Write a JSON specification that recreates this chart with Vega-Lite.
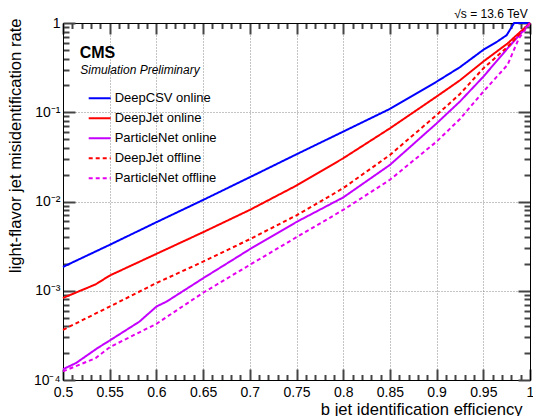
{
  "$schema": "https://vega.github.io/schema/vega-lite/v6.json",
  "width": 467,
  "height": 357,
  "autosize": "none",
  "padding": {"left": 63, "top": 23, "right": 3, "bottom": 36},
  "config": {
    "font": "Liberation Sans",
    "view": {"stroke": "black", "strokeWidth": 1},
    "axis": {"domainColor": "black", "labelColor": "black", "titleColor": "black", "labelFont": "Liberation Sans", "titleFont": "Liberation Sans"},
    "legend": {
      "orient": "none", "legendX": 24.7, "legendY": 65.5, "padding": 0,
      "symbolType": "stroke", "symbolSize": 484, "symbolStrokeWidth": 2,
      "labelFontSize": 13, "labelFont": "Liberation Sans", "labelColor": "black",
      "labelOffset": 3, "rowPadding": 0, "clipHeight": 19.6
    }
  },
  "data": {"values": [
    {"model": "DeepCSV online", "eff": 0.5, "rate": 0.00185},
    {"model": "DeepCSV online", "eff": 0.55, "rate": 0.00327},
    {"model": "DeepCSV online", "eff": 0.6, "rate": 0.00586},
    {"model": "DeepCSV online", "eff": 0.65, "rate": 0.0104},
    {"model": "DeepCSV online", "eff": 0.7, "rate": 0.0187},
    {"model": "DeepCSV online", "eff": 0.75, "rate": 0.0338},
    {"model": "DeepCSV online", "eff": 0.8, "rate": 0.0607},
    {"model": "DeepCSV online", "eff": 0.85, "rate": 0.109},
    {"model": "DeepCSV online", "eff": 0.9, "rate": 0.22},
    {"model": "DeepCSV online", "eff": 0.925, "rate": 0.32},
    {"model": "DeepCSV online", "eff": 0.95, "rate": 0.5},
    {"model": "DeepCSV online", "eff": 0.965, "rate": 0.62},
    {"model": "DeepCSV online", "eff": 0.975, "rate": 0.73},
    {"model": "DeepCSV online", "eff": 0.983, "rate": 1.0},
    {"model": "DeepCSV online", "eff": 1.0, "rate": 1.0},

    {"model": "DeepJet online", "eff": 0.5, "rate": 0.00083},
    {"model": "DeepJet online", "eff": 0.535, "rate": 0.00118},
    {"model": "DeepJet online", "eff": 0.55, "rate": 0.00148},
    {"model": "DeepJet online", "eff": 0.6, "rate": 0.00259},
    {"model": "DeepJet online", "eff": 0.65, "rate": 0.00453},
    {"model": "DeepJet online", "eff": 0.7, "rate": 0.00805},
    {"model": "DeepJet online", "eff": 0.75, "rate": 0.0151},
    {"model": "DeepJet online", "eff": 0.8, "rate": 0.0305},
    {"model": "DeepJet online", "eff": 0.85, "rate": 0.066},
    {"model": "DeepJet online", "eff": 0.9, "rate": 0.15},
    {"model": "DeepJet online", "eff": 0.925, "rate": 0.228},
    {"model": "DeepJet online", "eff": 0.95, "rate": 0.37},
    {"model": "DeepJet online", "eff": 0.976, "rate": 0.59},
    {"model": "DeepJet online", "eff": 1.0, "rate": 1.0},

    {"model": "ParticleNet online", "eff": 0.5, "rate": 0.000132},
    {"model": "ParticleNet online", "eff": 0.514, "rate": 0.000155},
    {"model": "ParticleNet online", "eff": 0.537, "rate": 0.000228},
    {"model": "ParticleNet online", "eff": 0.55, "rate": 0.000277},
    {"model": "ParticleNet online", "eff": 0.582, "rate": 0.000452},
    {"model": "ParticleNet online", "eff": 0.6, "rate": 0.000665},
    {"model": "ParticleNet online", "eff": 0.611, "rate": 0.000757},
    {"model": "ParticleNet online", "eff": 0.65, "rate": 0.00138},
    {"model": "ParticleNet online", "eff": 0.7, "rate": 0.00292},
    {"model": "ParticleNet online", "eff": 0.75, "rate": 0.0059},
    {"model": "ParticleNet online", "eff": 0.8, "rate": 0.0111},
    {"model": "ParticleNet online", "eff": 0.85, "rate": 0.0257},
    {"model": "ParticleNet online", "eff": 0.9, "rate": 0.075},
    {"model": "ParticleNet online", "eff": 0.925, "rate": 0.132},
    {"model": "ParticleNet online", "eff": 0.95, "rate": 0.25},
    {"model": "ParticleNet online", "eff": 0.976, "rate": 0.52},
    {"model": "ParticleNet online", "eff": 1.0, "rate": 1.0},

    {"model": "DeepJet offline", "eff": 0.5, "rate": 0.000365},
    {"model": "DeepJet offline", "eff": 0.55, "rate": 0.000665},
    {"model": "DeepJet offline", "eff": 0.6, "rate": 0.00122},
    {"model": "DeepJet offline", "eff": 0.65, "rate": 0.00212},
    {"model": "DeepJet offline", "eff": 0.7, "rate": 0.00378},
    {"model": "DeepJet offline", "eff": 0.75, "rate": 0.0070},
    {"model": "DeepJet offline", "eff": 0.8, "rate": 0.0141},
    {"model": "DeepJet offline", "eff": 0.85, "rate": 0.0332},
    {"model": "DeepJet offline", "eff": 0.9, "rate": 0.093},
    {"model": "DeepJet offline", "eff": 0.925, "rate": 0.16},
    {"model": "DeepJet offline", "eff": 0.95, "rate": 0.31},
    {"model": "DeepJet offline", "eff": 0.976, "rate": 0.54},
    {"model": "DeepJet offline", "eff": 1.0, "rate": 1.0},

    {"model": "ParticleNet offline", "eff": 0.5, "rate": 0.000125},
    {"model": "ParticleNet offline", "eff": 0.535, "rate": 0.000176},
    {"model": "ParticleNet offline", "eff": 0.55, "rate": 0.000233},
    {"model": "ParticleNet offline", "eff": 0.6, "rate": 0.000426},
    {"model": "ParticleNet offline", "eff": 0.65, "rate": 0.00095},
    {"model": "ParticleNet offline", "eff": 0.7, "rate": 0.00195},
    {"model": "ParticleNet offline", "eff": 0.75, "rate": 0.00398},
    {"model": "ParticleNet offline", "eff": 0.8, "rate": 0.00805},
    {"model": "ParticleNet offline", "eff": 0.85, "rate": 0.0175},
    {"model": "ParticleNet offline", "eff": 0.9, "rate": 0.0469},
    {"model": "ParticleNet offline", "eff": 0.925, "rate": 0.084},
    {"model": "ParticleNet offline", "eff": 0.95, "rate": 0.17},
    {"model": "ParticleNet offline", "eff": 0.976, "rate": 0.34},
    {"model": "ParticleNet offline", "eff": 0.988, "rate": 0.67},
    {"model": "ParticleNet offline", "eff": 1.0, "rate": 1.0}
  ]},
  "layer": [
    {
      "mark": {"type": "point", "opacity": 0},
      "encoding": {
        "x": {"field": "eff", "type": "quantitative",
          "scale": {"domain": [0.5, 1.0], "nice": false, "zero": false},
          "axis": {"orient": "bottom",
            "values": [0.5, 0.51, 0.52, 0.53, 0.54, 0.55, 0.56, 0.57, 0.58, 0.59, 0.6, 0.61, 0.62, 0.63, 0.64, 0.65, 0.66, 0.67, 0.68, 0.69, 0.7, 0.71, 0.72, 0.73, 0.74, 0.75, 0.76, 0.77, 0.78, 0.79, 0.8, 0.81, 0.82, 0.83, 0.84, 0.85, 0.86, 0.87, 0.88, 0.89, 0.9, 0.91, 0.92, 0.93, 0.94, 0.95, 0.96, 0.97, 0.98, 0.99, 1.0],
            "ticks": true, "tickColor": "#444444", "tickWidth": 2,
            "tickSize": {"condition": {"test": "datum.value == 0.5 || datum.value == 0.55 || datum.value == 0.6 || datum.value == 0.65 || datum.value == 0.7 || datum.value == 0.75 || datum.value == 0.8 || datum.value == 0.85 || datum.value == 0.9 || datum.value == 0.95 || datum.value == 1", "value": -11}, "value": -5.5},
            "domain": true, "grid": true, "gridDash": [1, 2], "gridColor": "#888888", "gridWidth": 1,
            "gridOpacity": {"condition": {"test": "datum.value == 0.5 || datum.value == 0.55 || datum.value == 0.6 || datum.value == 0.65 || datum.value == 0.7 || datum.value == 0.75 || datum.value == 0.8 || datum.value == 0.85 || datum.value == 0.9 || datum.value == 0.95 || datum.value == 1", "value": 1}, "value": 0},
            "labelFontSize": 14, "labelPadding": 16, "labelFlush": false, "labelOverlap": false,
            "labelExpr": "(datum.value == 0.5 || datum.value == 0.55 || datum.value == 0.6 || datum.value == 0.65 || datum.value == 0.7 || datum.value == 0.75 || datum.value == 0.8 || datum.value == 0.85 || datum.value == 0.9 || datum.value == 0.95 || datum.value == 1) ? toString(round(datum.value*100)/100) : ''",
            "title": "b jet identification efficiency", "titleFontSize": 16.6, "titleFontWeight": "normal",
            "titleX": 459, "titleY": 34, "titleAlign": "right", "titleBaseline": "alphabetic"}},
        "y": {"field": "rate", "type": "quantitative",
          "scale": {"type": "log", "domain": [0.0001, 1], "nice": false},
          "axis": {"orient": "left",
            "values": [0.0001, 0.0002, 0.0003, 0.0004, 0.0005, 0.0006, 0.0007, 0.0008, 0.0009, 0.001, 0.002, 0.003, 0.004, 0.005, 0.006, 0.007, 0.008, 0.009, 0.01, 0.02, 0.03, 0.04, 0.05, 0.06, 0.07, 0.08, 0.09, 0.1, 0.2, 0.3, 0.4, 0.5, 0.6, 0.7, 0.8, 0.9, 1],
            "ticks": true, "tickColor": "#444444", "tickWidth": 2,
            "tickSize": {"condition": {"test": "datum.value == 1 || datum.value == 0.1 || datum.value == 0.01 || datum.value == 0.001 || datum.value == 0.0001", "value": -12}, "value": -6},
            "domain": true, "grid": true, "gridDash": [1, 2], "gridColor": "#888888", "gridWidth": 1,
            "gridOpacity": {"condition": {"test": "datum.value == 1 || datum.value == 0.1 || datum.value == 0.01 || datum.value == 0.001 || datum.value == 0.0001", "value": 1}, "value": 0},
            "labelFontSize": 14, "labelPadding": 15, "labelFlush": false, "labelOverlap": false, "labelBaseline": "middle",
            "labelExpr": "datum.value == 1 ? '1' : datum.value == 0.1 ? '10⁻¹' : datum.value == 0.01 ? '10⁻²' : datum.value == 0.001 ? '10⁻³' : datum.value == 0.0001 ? '10⁻⁴' : ''",
            "title": "light-flavor jet misidentification rate", "titleFontSize": 16.6, "titleFontWeight": "normal",
            "titleX": -48, "titleY": -5, "titleAngle": -90, "titleAlign": "right", "titleBaseline": "middle"}}
      }
    },
    {
      "mark": {"type": "point", "opacity": 0},
      "encoding": {
        "x": {"field": "eff", "type": "quantitative",
          "axis": {"orient": "top",
            "values": [0.5, 0.51, 0.52, 0.53, 0.54, 0.55, 0.56, 0.57, 0.58, 0.59, 0.6, 0.61, 0.62, 0.63, 0.64, 0.65, 0.66, 0.67, 0.68, 0.69, 0.7, 0.71, 0.72, 0.73, 0.74, 0.75, 0.76, 0.77, 0.78, 0.79, 0.8, 0.81, 0.82, 0.83, 0.84, 0.85, 0.86, 0.87, 0.88, 0.89, 0.9, 0.91, 0.92, 0.93, 0.94, 0.95, 0.96, 0.97, 0.98, 0.99, 1.0],
            "labels": false, "domain": true, "grid": false, "ticks": true, "tickColor": "#444444", "tickWidth": 2,
            "tickSize": {"condition": {"test": "datum.value == 0.5 || datum.value == 0.55 || datum.value == 0.6 || datum.value == 0.65 || datum.value == 0.7 || datum.value == 0.75 || datum.value == 0.8 || datum.value == 0.85 || datum.value == 0.9 || datum.value == 0.95 || datum.value == 1", "value": -11}, "value": -5.5},
            "title": null}},
        "y": {"field": "rate", "type": "quantitative",
          "axis": {"orient": "right",
            "values": [0.0001, 0.0002, 0.0003, 0.0004, 0.0005, 0.0006, 0.0007, 0.0008, 0.0009, 0.001, 0.002, 0.003, 0.004, 0.005, 0.006, 0.007, 0.008, 0.009, 0.01, 0.02, 0.03, 0.04, 0.05, 0.06, 0.07, 0.08, 0.09, 0.1, 0.2, 0.3, 0.4, 0.5, 0.6, 0.7, 0.8, 0.9, 1],
            "labels": false, "domain": true, "grid": false, "ticks": true, "tickColor": "#444444", "tickWidth": 2,
            "tickSize": {"condition": {"test": "datum.value == 1 || datum.value == 0.1 || datum.value == 0.01 || datum.value == 0.001 || datum.value == 0.0001", "value": -12}, "value": -6},
            "title": null}}
      }
    },
    {
      "mark": {"type": "line", "strokeWidth": 2},
      "encoding": {
        "x": {"field": "eff", "type": "quantitative", "axis": null},
        "y": {"field": "rate", "type": "quantitative", "axis": null},
        "color": {"field": "model", "type": "nominal",
          "scale": {"domain": ["DeepCSV online", "DeepJet online", "ParticleNet online", "DeepJet offline", "ParticleNet offline"],
                    "range": ["#0000ff", "#ff0000", "#c400ff", "#ff0000", "#e600f0"]},
          "legend": {"title": null}},
        "strokeDash": {"field": "model", "type": "nominal",
          "scale": {"domain": ["DeepCSV online", "DeepJet online", "ParticleNet online", "DeepJet offline", "ParticleNet offline"],
                    "range": [[1, 0], [1, 0], [1, 0], [4, 3], [4, 3]]},
          "legend": {"title": null}}
      }
    },
    {
      "data": {"values": [{}]},
      "mark": {"type": "text", "text": "CMS", "fontSize": 16, "fontWeight": "bold", "align": "left", "baseline": "alphabetic", "font": "Liberation Sans", "color": "black"},
      "encoding": {
        "x": {"datum": 0.5179, "type": "quantitative", "axis": null},
        "y": {"datum": 0.4055, "type": "quantitative", "axis": null}
      }
    },
    {
      "data": {"values": [{}]},
      "mark": {"type": "text", "text": "Simulation Preliminary", "fontSize": 12, "fontStyle": "italic", "align": "left", "baseline": "alphabetic", "font": "Liberation Sans", "color": "black"},
      "encoding": {
        "x": {"datum": 0.5185, "type": "quantitative", "axis": null},
        "y": {"datum": 0.2685, "type": "quantitative", "axis": null}
      }
    },
    {
      "data": {"values": [{}]},
      "mark": {"type": "text", "text": "√s =  13.6 TeV", "fontSize": 12, "align": "right", "baseline": "alphabetic", "font": "Liberation Sans", "color": "black"},
      "encoding": {
        "x": {"datum": 0.9975, "type": "quantitative", "axis": null},
        "y": {"datum": 1.138, "type": "quantitative", "axis": null}
      }
    }
  ],
  "resolve": {"axis": {"x": "independent", "y": "independent"}}
}
